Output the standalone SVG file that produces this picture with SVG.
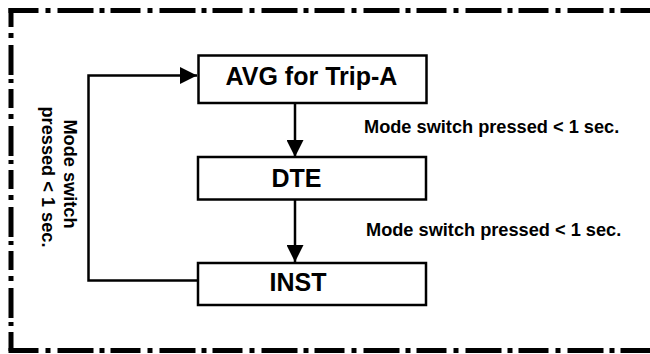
<svg xmlns="http://www.w3.org/2000/svg" width="650" height="354" viewBox="0 0 650 354">
<style>
.box{fill:#fff;stroke:#000;stroke-width:2.5}
.edge{fill:none;stroke:#000;stroke-width:2.5}
.title{font-family:"Liberation Sans",Arial,sans-serif;font-weight:bold;font-size:25px;fill:#000}
.lbl{font-family:"Liberation Sans",Arial,sans-serif;font-weight:bold;font-size:18.2px;fill:#000}
.frame{fill:none;stroke:#000;stroke-width:5}
</style>
<defs>
<marker id="arr" markerUnits="userSpaceOnUse" markerWidth="17" markerHeight="17" viewBox="0 0 15 15" refX="15" refY="7.5" orient="auto">
<path d="M0,0 L15,7.5 L0,15 Z" fill="#000"/>
</marker>
</defs>
<rect width="650" height="354" fill="#fff"/>
<g id="frame">
<line class="frame" x1="8.5" y1="10.5" x2="650" y2="10.5" stroke-dasharray="30 7 5 7 36 6 5 6"/>
<line class="frame" x1="11" y1="8" x2="11" y2="354" stroke-dasharray="19 6 5 7 30 4 4 6"/>
<line class="frame" x1="8.5" y1="350.5" x2="650" y2="350.5" stroke-dasharray="30 7 5 7 36 6 5 6"/>
</g>
<g id="connectors">
<line class="edge" x1="295" y1="103" x2="295" y2="157" marker-end="url(#arr)"/>
<line class="edge" x1="295" y1="200" x2="295" y2="262" marker-end="url(#arr)"/>
<polyline class="edge" points="198,280.5 88.5,280.5 88.5,75.5 197,75.5" marker-end="url(#arr)"/>
<text class="lbl" x="364" y="133">Mode switch pressed &lt; 1 sec.</text>
<text class="lbl" x="366" y="235.5">Mode switch pressed &lt; 1 sec.</text>
<text class="lbl" text-anchor="middle" transform="translate(63.5,174) rotate(90)">Mode switch</text>
<text class="lbl" text-anchor="middle" transform="translate(42,177) rotate(90)">pressed &lt; 1 sec.</text>
</g>
<g id="node-avg">
<rect class="box" x="198.5" y="55.5" width="228" height="47.5"/>
<text class="title" x="311.5" y="85" text-anchor="middle">AVG for Trip-A</text>
</g>
<g id="node-dte">
<rect class="box" x="198" y="157" width="228" height="42.5"/>
<text class="title" x="296.5" y="187" text-anchor="middle">DTE</text>
</g>
<g id="node-inst">
<rect class="box" x="198" y="263" width="228" height="42"/>
<text class="title" x="298" y="291" text-anchor="middle">INST</text>
</g>
</svg>
